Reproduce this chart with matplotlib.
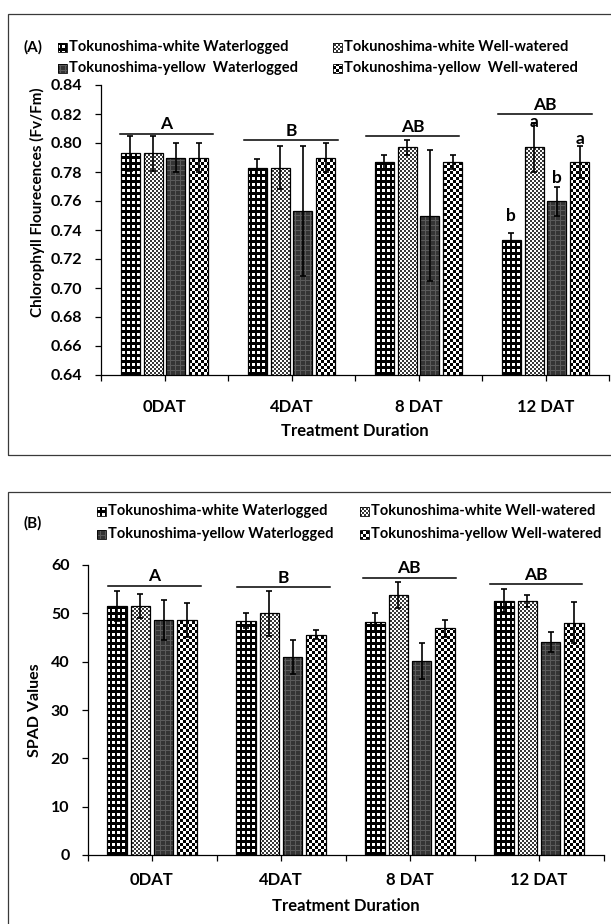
import numpy as np
import matplotlib
matplotlib.use('Agg')
import matplotlib.pyplot as plt
from matplotlib.path import Path
from matplotlib.patches import Rectangle
from matplotlib.transforms import IdentityTransform

plt.rcParams['font.family'] = ['Lato', 'DejaVu Sans']
plt.rcParams['font.weight'] = 'bold'

# ---------------- data ----------------
categories = ['0DAT', '4DAT', '8 DAT', '12 DAT']

legend_a = ['Tokunoshima-white Waterlogged', 'Tokunoshima-white Well-watered',
            'Tokunoshima-yellow  Waterlogged', 'Tokunoshima-yellow  Well-watered']
legend_b = ['Tokunoshima-white Waterlogged', 'Tokunoshima-white Well-watered',
            'Tokunoshima-yellow Waterlogged', 'Tokunoshima-yellow Well-watered']

# Panel A : Fv/Fm
fv_white_wl = [0.793, 0.783, 0.787, 0.733]
fv_white_ww = [0.793, 0.783, 0.797, 0.797]
fv_yellow_wl = [0.790, 0.753, 0.750, 0.760]
fv_yellow_ww = [0.790, 0.790, 0.787, 0.787]
fv_white_wl_err = [0.012, 0.006, 0.005, 0.005]
fv_white_ww_err = [0.012, 0.015, 0.005, 0.017]
fv_yellow_wl_err = [0.010, 0.045, 0.045, 0.010]
fv_yellow_ww_err = [0.010, 0.010, 0.005, 0.011]

# Panel B : SPAD
sp_white_wl = [51.6, 48.5, 48.2, 52.6]
sp_white_ww = [51.6, 50.0, 53.8, 52.5]
sp_yellow_wl = [48.6, 40.9, 40.1, 44.1]
sp_yellow_ww = [48.6, 45.6, 46.9, 48.1]
sp_white_wl_err = [3.1, 1.5, 1.8, 2.4]
sp_white_ww_err = [2.5, 4.6, 2.6, 1.2]
sp_yellow_wl_err = [4.1, 3.5, 3.7, 2.0]
sp_yellow_ww_err = [3.5, 1.0, 1.7, 4.3]

# group significance letters
group_letters_a = ['A', 'B', 'AB', 'AB']
group_letters_b = ['A', 'B', 'AB', 'AB']
group_line_a = [0.8065, 0.8018, 0.8046, 0.8197]
group_line_b = [55.7, 55.4, 57.4, 56.0]
group_span_a = [(-0.35, 0.38), (-0.374, 0.366), (-0.413, 0.32), (-0.376, 0.364)]
group_span_b = [(-0.34, 0.38), (-0.34, 0.378), (-0.366, 0.353), (-0.381, 0.335)]

# bar letters at 12 DAT in panel A
bar_letters_a = ['b', 'a', 'b', 'a']
bar_letter_y_a = [0.7495, 0.8145, 0.7762, 0.8025]

# ---------------- layout ----------------
W, H = 611, 924
fig = plt.figure(figsize=(W / 100, H / 100), dpi=100)


def frect(l, t, r, b):
    return [l / W, 1 - b / H, (r - l) / W, (b - t) / H]


def fxy(x, y):
    return (x / W, 1 - y / H)


# panel frames
for (t, b) in [(14, 455), (492, 935)]:
    fig.add_artist(Rectangle(fxy(8, b), 700 / W, (b - t) / H, transform=fig.transFigure,
                             fill=False, edgecolor='#3a3a3a', lw=0.9))

axA = fig.add_axes(frect(101, 85, 609, 375))
axB = fig.add_axes(frect(87.5, 565, 603.5, 855))

offsets = [-0.27, -0.09, 0.09, 0.27]
width = 0.15
centers = np.arange(len(categories)) + 0.5


def draw_panel(ax, vals, errs, ylim, yticks, fmt, glet, gline, gspan, ypad, xpad):
    ax.set_facecolor('none')
    ax.set_xlim(0, 4)
    ax.set_ylim(*ylim)
    for s in ['top', 'right']:
        ax.spines[s].set_visible(False)
    for s in ['left', 'bottom']:
        ax.spines[s].set_linewidth(0.9)
        ax.spines[s].set_color('black')
    ax.set_yticks(yticks)
    ax.set_yticklabels([fmt.format(v) for v in yticks])
    ax.set_xticks(centers)
    ax.set_xticklabels(categories)
    ax.set_xticks(np.arange(5), minor=True)
    ax.tick_params(axis='y', direction='out', length=4.5, width=0.9, pad=ypad, labelsize=11.5)
    ax.tick_params(axis='x', which='both', direction='out', length=4, width=0.9)
    ax.tick_params(axis='x', which='major', pad=xpad, labelsize=12)
    bars_all = []
    for i in range(4):
        bars = ax.bar(centers + offsets[i], vals[i], width=width, facecolor='none',
                      edgecolor='black', lw=0.9, zorder=2)
        ax.errorbar(centers + offsets[i], vals[i], yerr=errs[i], fmt='none', ecolor='black',
                    elinewidth=1.2, capsize=2.5, capthick=1.2, zorder=3)
        bars_all.append(bars)
    for g in range(4):
        x0 = centers[g] + gspan[g][0]
        x1 = centers[g] + gspan[g][1]
        ax.plot([x0, x1], [gline[g], gline[g]], color='black', lw=1.1, clip_on=False)
        ax.annotate(glet[g], ((x0 + x1) / 2, gline[g]), xytext=(0, 1.0), textcoords='offset points',
                    ha='center', va='bottom', fontsize=12.5, fontweight='bold', annotation_clip=False)
    return bars_all


barsA = draw_panel(axA, [fv_white_wl, fv_white_ww, fv_yellow_wl, fv_yellow_ww],
                   [fv_white_wl_err, fv_white_ww_err, fv_yellow_wl_err, fv_yellow_ww_err],
                   (0.64, 0.84), np.round(np.arange(0.64, 0.8401, 0.02), 2), '{:.2f}',
                   group_letters_a, group_line_a, group_span_a, 9, 13)
barsB = draw_panel(axB, [sp_white_wl, sp_white_ww, sp_yellow_wl, sp_yellow_ww],
                   [sp_white_wl_err, sp_white_ww_err, sp_yellow_wl_err, sp_yellow_ww_err],
                   (0, 60), np.arange(0, 61, 10), '{:d}',
                   group_letters_b, group_line_b, group_span_b, 8.5, 8)

for g in range(4):
    axA.text(centers[3] + offsets[g], bar_letter_y_a[g], bar_letters_a[g], ha='center', va='center',
             fontsize=12.5, fontweight='bold', zorder=4)

# axis titles
fig.text(*fxy(37.5, 202), 'Chlorophyll Flourecences (Fv/Fm)', rotation=90, ha='center', va='center',
         fontsize=11, fontweight='bold')
fig.text(*fxy(35, 710), 'SPAD Values', rotation=90, ha='center', va='center',
         fontsize=11.5, fontweight='bold')
fig.text(*fxy(355, 431), 'Treatment Duration', ha='center', va='center', fontsize=12, fontweight='bold')
fig.text(*fxy(346, 906), 'Treatment Duration', ha='center', va='center', fontsize=12, fontweight='bold')

# panel tags
fig.text(*fxy(33, 47), '(A)', ha='center', va='center', fontsize=11, fontweight='bold')
fig.text(*fxy(33, 523), '(B)', ha='center', va='center', fontsize=11, fontweight='bold')

# manual legends
sq = 9
legend_clip = [[], [], [], []]


def legend(labels, xs, ys):
    k = 0
    for r in range(2):
        for c in range(2):
            x, y = xs[c], ys[r]
            fig.add_artist(Rectangle(fxy(x, y + sq / 2), sq / W, sq / H, transform=fig.transFigure,
                                     fill=False, edgecolor='black', lw=0.6, zorder=3))
            fig.text(*fxy(x + sq + 2, y), labels[k], ha='left', va='center', fontsize=10.5,
                     fontweight='bold')
            x0, y0 = x, H - (y + sq / 2)
            legend_clip[k].append(Path([(x0, y0), (x0 + sq, y0), (x0 + sq, y0 + sq), (x0, y0 + sq),
                                        (x0, y0)], closed=True))
            k += 1


legend(legend_a, [58, 333], [47, 68])
legend(legend_b, [97, 360], [511, 534])

# textures
yy, xx = np.mgrid[0:H, 0:W]
p1 = np.where(((xx % 5) >= 2) & ((yy % 6) >= 3), 1.0, 0.0)
p2 = np.where(((xx // 2 + yy // 2) % 2) == 0, 1.0, 0.22)
p3 = np.where((xx % 5 == 0) | (yy % 5 == 0), 0.36, 0.21)
p4 = np.where(((xx // 3 + yy // 3) % 2) == 0, 1.0, 0.0)
textures = [np.dstack([p, p, p]) for p in [p1, p2, p3, p4]]

for ax, bars_all in [(axA, barsA), (axB, barsB)]:
    for i, bars in enumerate(bars_all):
        paths = [b.get_transform().transform_path(b.get_path()) for b in bars]
        im = fig.figimage(textures[i], xo=0, yo=0, origin='upper', zorder=-1)
        im.set_clip_path(Path.make_compound_path(*paths), IdentityTransform())
        im.set_clip_box(ax.bbox)

for i in range(4):
    im = fig.figimage(textures[i], xo=0, yo=0, origin='upper', zorder=-1)
    im.set_clip_path(Path.make_compound_path(*legend_clip[i]), IdentityTransform())

fig.savefig('out.png', dpi=100)
